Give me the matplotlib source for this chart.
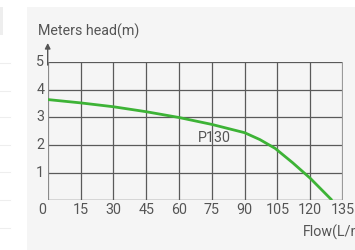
import numpy as np
import matplotlib.pyplot as plt
from matplotlib.patches import Rectangle

# curve values
flow = [0, 15, 30, 45, 60, 75, 90, 97, 104, 112, 120, 130]
head = [3.65, 3.53, 3.39, 3.21, 3.0, 2.75, 2.45, 2.2, 1.88, 1.36, 0.8, 0.0]
xticks = [0, 15, 30, 45, 60, 75, 90, 105, 120, 135]
yticks = [1, 2, 3, 4, 5]
curve_name = "P130"

W, H = 355, 250
fig = plt.figure(figsize=(W / 100, H / 100), dpi=100)
fig.patch.set_facecolor("white")

# grey panel behind the chart
fig.patches.append(Rectangle((27 / W, 0), 1, 1 - 7 / H, transform=fig.transFigure,
                             facecolor="#f5f5f5", edgecolor="none", zorder=-10))
fig.patches.append(Rectangle((0, 1 - 35 / H), 3 / W, 28 / H, transform=fig.transFigure,
                             facecolor="#eeeeee", edgecolor="none", zorder=-10))
for yy in [63, 91, 117, 145, 172, 200, 228]:
    fig.add_artist(plt.Line2D([0, 10 / W], [1 - yy / H, 1 - yy / H],
                              transform=fig.transFigure, color="#eeeeee", lw=0.8,
                              zorder=-10))

x0, x1 = 47.7, 343.0
y0, y1 = 200.3, 62.3
ax = fig.add_axes([x0 / W, 1 - y0 / H, (x1 - x0) / W, (y0 - y1) / H])
ax.set_zorder(5)
ax.set_facecolor("none")
ax.set_xlim(0, 135)
ax.set_ylim(0, 5)

for s in ax.spines.values():
    s.set_visible(False)

grid_c = "#5a5a5a"
for x in xticks[1:-1]:
    ax.axvline(x, color=grid_c, lw=0.9, zorder=1)
for y in yticks:
    ax.axhline(y, color=grid_c, lw=0.9, zorder=1)
ax.axhline(0, color=grid_c, lw=1.0, zorder=2)
ax.axvline(135, color="#9a9a9a", lw=1.6, zorder=2)
ax.axvline(0, color="#8a8a8a", lw=1.6, zorder=2)

# y axis arrow
ax.annotate("", xy=(0, 1.14), xytext=(0, 0.98), xycoords="axes fraction",
            arrowprops=dict(arrowstyle="-|>", color="#555555", lw=1.0,
                            mutation_scale=8, shrinkA=0, shrinkB=0),
            annotation_clip=False)

ax.plot(flow, head, color="#3db336", lw=2.0, zorder=3, solid_capstyle="butt")

txt = "#555555"
fs = 10.3
fam = "Roboto"
ax.set_xticks([])
ax.set_yticks([])
for x in xticks:
    xx = -2.6 if x == 0 else x
    ax.text(xx, -0.35, str(x), ha="center", va="center", fontsize=fs, color=txt,
            family=fam)
for y in yticks:
    ax.text(-3.4, y, str(y), ha="center", va="center", fontsize=fs, color=txt,
            family=fam)
ax.text(68.5, 2.27, curve_name, ha="left", va="center", fontsize=fs, color=txt,
        family=fam)

fig.text(38 / W, 1 - 31 / H, "Meters head(m)", ha="left", va="center",
         fontsize=fs, color=txt, family=fam)
fig.text(303 / W, 1 - 232 / H, "Flow(L/min)", ha="left", va="center",
         fontsize=fs, color=txt, family=fam)

fig.savefig("out.png", dpi=100)
